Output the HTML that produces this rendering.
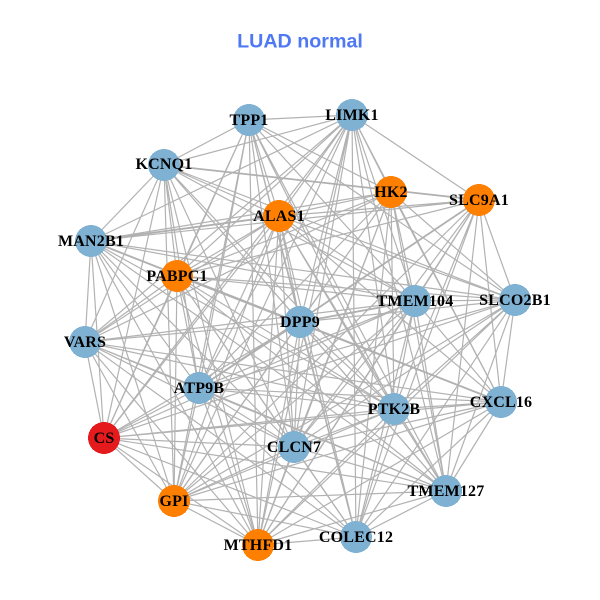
<!DOCTYPE html>
<html>
<head>
<meta charset="utf-8">
<style>
html,body{margin:0;padding:0;background:#fff;width:600px;height:600px;overflow:hidden}
svg{display:block}
.t{font-family:"Liberation Sans",sans-serif;font-weight:bold;font-size:19.7px;fill:#4F78F4}
.l{font-family:"Liberation Serif",serif;font-weight:bold;font-size:16px;letter-spacing:.2px;fill:#000;text-anchor:middle}
</style>
</head>
<body>
<svg width="600" height="600" viewBox="0 0 600 600" xmlns="http://www.w3.org/2000/svg">
<rect width="600" height="600" fill="#fff"/>
<text class="t" x="300" y="47.5" text-anchor="middle">LUAD normal</text>
<g fill="none" stroke="#b2b2b2" stroke-width="1.2">
<path d="M249 120L352 115M249 120L164 165M249 120L391 192M249 120L279 216M249 120L177 276M249 120L415 301M249 120L300 322M249 120L199 388M249 120L104 438M249 120L394 409M249 120L294 447M249 120L174 501M249 120L446 491M249 120L356 537M249 120L258 545M249 120L515 300"/>
<path d="M352 115L164 165M352 115L391 192M352 115L479 200M352 115L279 216M352 115L91 241M352 115L177 276M352 115L415 301M352 115L300 322M352 115L85 342M352 115L199 388M352 115L394 409M352 115L501 402M352 115L294 447M352 115L174 501M352 115L446 491M352 115L356 537M352 115L258 545M352 115L104 438"/>
<path d="M164 165L279 216M164 165L91 241M164 165L177 276M164 165L415 301M164 165L515 300M164 165L300 322M164 165L85 342M164 165L199 388M164 165L104 438M164 165L394 409M164 165L294 447M164 165L174 501M164 165L446 491M164 165L258 545"/>
<path d="M391 192L279 216M391 192L91 241M391 192L177 276M391 192L415 301M391 192L515 300M391 192L300 322M391 192L85 342M391 192L199 388M391 192L394 409M391 192L501 402M391 192L294 447M391 192L174 501M391 192L446 491M391 192L356 537M391 192L258 545"/>
<path d="M479 200L279 216M479 200L177 276M479 200L415 301M479 200L515 300M479 200L394 409M479 200L501 402M479 200L294 447M479 200L174 501M479 200L446 491M479 200L356 537M479 200L258 545M479 200L91 241"/>
<path d="M279 216L177 276M279 216L415 301M279 216L515 300M279 216L300 322M279 216L85 342M279 216L199 388M279 216L104 438M279 216L394 409M279 216L501 402M279 216L294 447M279 216L174 501M279 216L446 491M279 216L356 537M279 216L258 545"/>
<path d="M91 241L415 301M91 241L515 300M91 241L85 342M91 241L199 388M91 241L104 438M91 241L394 409M91 241L294 447M91 241L174 501M91 241L446 491M91 241L258 545"/>
<path d="M177 276L415 301M177 276L515 300M177 276L85 342M177 276L199 388M177 276L104 438M177 276L394 409M177 276L501 402M177 276L294 447M177 276L174 501M177 276L446 491M177 276L356 537M177 276L258 545"/>
<path d="M415 301L515 300M415 301L85 342M415 301L199 388M415 301L104 438M415 301L394 409M415 301L501 402M415 301L294 447M415 301L174 501M415 301L446 491M415 301L356 537M415 301L258 545"/>
<path d="M515 300L300 322M515 300L199 388M515 300L104 438M515 300L394 409M515 300L501 402M515 300L294 447M515 300L174 501M515 300L446 491M515 300L356 537M515 300L258 545"/>
<path d="M300 322L85 342M300 322L199 388M300 322L104 438M300 322L394 409M300 322L294 447M300 322L174 501M300 322L446 491M300 322L356 537M300 322L258 545"/>
<path d="M85 342L199 388M85 342L104 438M85 342L394 409M85 342L501 402M85 342L294 447M85 342L174 501M85 342L446 491M85 342L258 545M85 342L356 537"/>
<path d="M199 388L104 438M199 388L394 409M199 388L501 402M199 388L294 447M199 388L174 501M199 388L446 491M199 388L356 537M199 388L258 545"/>
<path d="M104 438L394 409M104 438L501 402M104 438L294 447M104 438L174 501M104 438L446 491M104 438L356 537M104 438L258 545"/>
<path d="M394 409L501 402M394 409L294 447M394 409L174 501M394 409L446 491M394 409L356 537M394 409L258 545"/>
<path d="M501 402L294 447M501 402L174 501M501 402L446 491M501 402L356 537M501 402L258 545"/>
<path d="M294 447L174 501M294 447L446 491M294 447L356 537M294 447L258 545"/>
<path d="M174 501L446 491M174 501L356 537M174 501L258 545"/>
<path d="M446 491L356 537M446 491L258 545M356 537L258 545"/>
</g>
<g fill="none" stroke="#b0b0b0" stroke-width="1.8">
<path d="M91 241L501 402M164 165L479 200M91 241L279 216M479 200L199 388M415 301L300 322"/>
</g>
<g shape-rendering="crispEdges">
<circle cx="249" cy="120" r="16" fill="#7FB1D3"/>
<circle cx="352" cy="115" r="16" fill="#7FB1D3"/>
<circle cx="164" cy="165" r="16" fill="#7FB1D3"/>
<circle cx="391" cy="192" r="16" fill="#FF7F00"/>
<circle cx="479" cy="200" r="16" fill="#FF7F00"/>
<circle cx="279" cy="216" r="16" fill="#FF7F00"/>
<circle cx="91" cy="241" r="16" fill="#7FB1D3"/>
<circle cx="177" cy="276" r="16" fill="#FF7F00"/>
<circle cx="415" cy="301" r="16" fill="#7FB1D3"/>
<circle cx="515" cy="300" r="16" fill="#7FB1D3"/>
<circle cx="300" cy="322" r="16" fill="#7FB1D3"/>
<circle cx="85" cy="342" r="16" fill="#7FB1D3"/>
<circle cx="199" cy="388" r="16" fill="#7FB1D3"/>
<circle cx="104" cy="438" r="16" fill="#E41A1C"/>
<circle cx="394" cy="409" r="16" fill="#7FB1D3"/>
<circle cx="501" cy="402" r="16" fill="#7FB1D3"/>
<circle cx="294" cy="447" r="16" fill="#7FB1D3"/>
<circle cx="174" cy="501" r="16" fill="#FF7F00"/>
<circle cx="446" cy="491" r="16" fill="#7FB1D3"/>
<circle cx="356" cy="537" r="16" fill="#7FB1D3"/>
<circle cx="258" cy="545" r="16" fill="#FF7F00"/>
</g>
<g>
<text class="l" x="249" y="125">TPP1</text>
<text class="l" x="352" y="120">LIMK1</text>
<text class="l" x="164" y="169">KCNQ1</text>
<text class="l" x="391" y="197">HK2</text>
<text class="l" x="479" y="205">SLC9A1</text>
<text class="l" x="279" y="221">ALAS1</text>
<text class="l" x="91" y="246">MAN2B1</text>
<text class="l" x="177" y="281">PABPC1</text>
<text class="l" x="415" y="306">TMEM104</text>
<text class="l" x="515" y="305">SLCO2B1</text>
<text class="l" x="300" y="327">DPP9</text>
<text class="l" x="85" y="347">VARS</text>
<text class="l" x="199" y="393">ATP9B</text>
<text class="l" x="104" y="443">CS</text>
<text class="l" x="394" y="414">PTK2B</text>
<text class="l" x="501" y="407">CXCL16</text>
<text class="l" x="294" y="452">CLCN7</text>
<text class="l" x="174" y="506">GPI</text>
<text class="l" x="446" y="496">TMEM127</text>
<text class="l" x="356" y="542">COLEC12</text>
<text class="l" x="258" y="550">MTHFD1</text>
</g>
</svg>
</body>
</html>
